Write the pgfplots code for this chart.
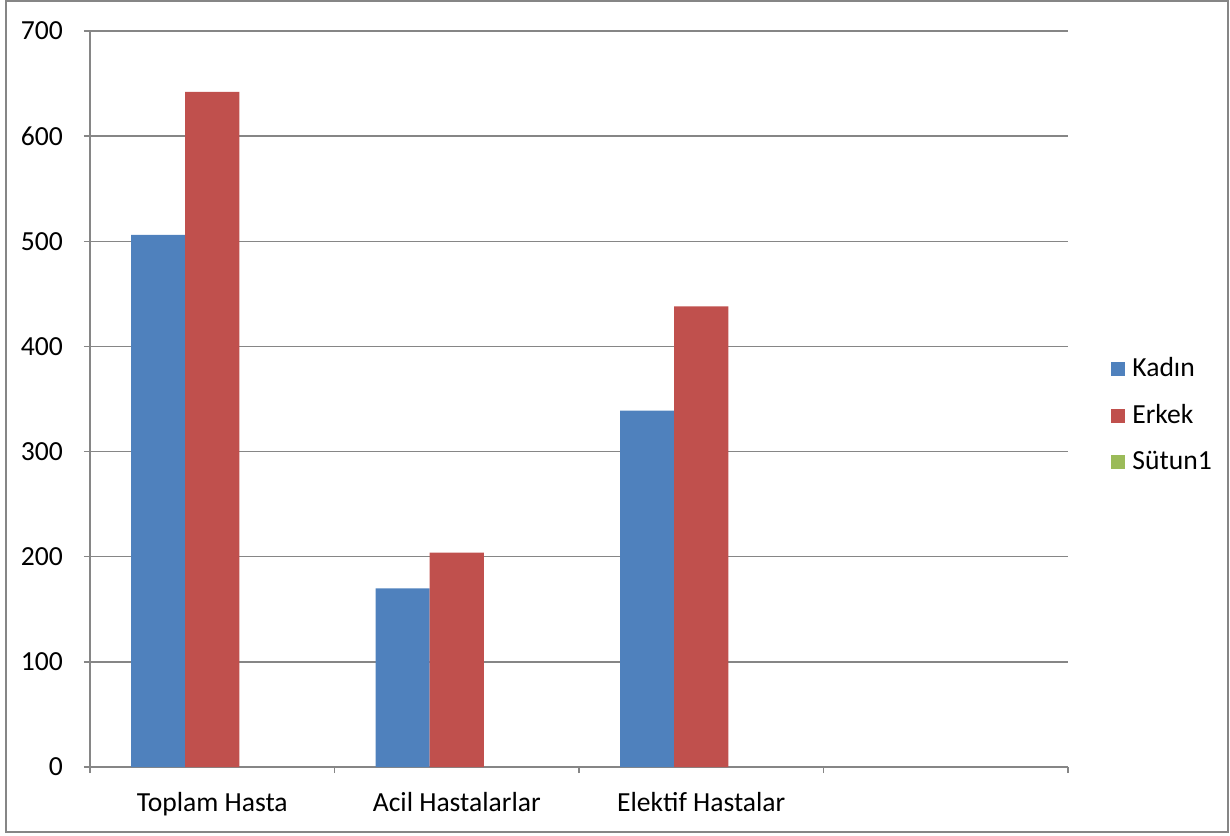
\documentclass[border=0pt]{standalone}
\usepackage{fontspec}
\setmainfont{Carlito}
\usepackage{pgfplots}
\pgfplotsset{compat=1.18}
\definecolor{cblue}{HTML}{4F81BD}
\definecolor{cred}{HTML}{C0504D}
\definecolor{cgreen}{HTML}{9BBB59}
\definecolor{cgrid}{HTML}{868686}
\pgfplotsset{sqleg/.style={legend image code/.code={\draw[##1,draw=none] (0pt,-3.5pt) rectangle (7pt,3.5pt);}}}
\begin{document}
\begin{tikzpicture}
\useasboundingbox (-45pt,-34pt) rectangle (570pt,383.5pt);
\draw[cgrid, line width=0.7pt] (-42pt,-32.5pt) rectangle (569pt,383pt);
\begin{axis}[
  at={(0pt,0pt)}, anchor=south west,
  width=489pt, height=368pt, scale only axis,
  font=\fontsize{13.8}{16.5}\selectfont,
  /pgf/number format/assume math mode=true,
  xmin=-0.5, xmax=3.5, ymin=0, ymax=700,
  ytick={0,100,...,700},
  yticklabel style={xshift=-7pt},
  xtick={-0.5,0.5,1.5,2.5,3.5}, xticklabels={},
  extra x ticks={0,1,2},
  extra x tick labels={Toplam Hasta, Acil Hastalarlar, Elektif Hastalar},
  extra x tick style={major tick length=0pt, grid=none, xticklabel style={yshift=-9pt}},
  axis x line*=bottom, axis y line*=left,
  axis line style={cgrid, line width=0.7pt},
  tick style={cgrid, line width=0.7pt},
  tick align=outside, major tick length=3pt,
  ymajorgrids, grid style={cgrid, line width=0.7pt},
  ybar, bar width=0.221,
  legend style={at={(1.0378,0.478)}, anchor=west, draw=none, fill=none,
    font=\fontsize{13.8}{16.5}\selectfont, row sep=8.3pt, cells={anchor=west},
    /tikz/every odd column/.append style={column sep=1.5pt}},
]
\addplot[fill=cblue, draw=none, bar shift=-0.221, sqleg] coordinates {(0,506) (1,170) (2,339)};
\addplot[fill=cred, draw=none, bar shift=0, sqleg] coordinates {(0,642) (1,204) (2,438)};
\addlegendimage{fill=cgreen, draw=none, sqleg}
\legend{Kadın, Erkek, Sütun1}
\end{axis}
\end{tikzpicture}
\end{document}
